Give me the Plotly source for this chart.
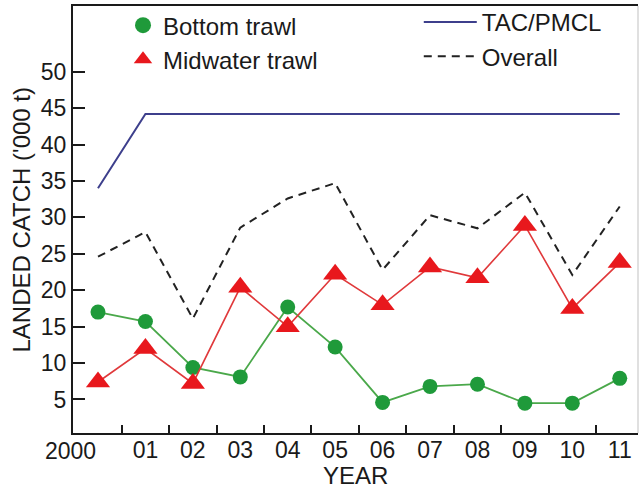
import plotly.graph_objects as go

years = [2000, 2001, 2002, 2003, 2004, 2005, 2006, 2007, 2008, 2009, 2010, 2011]
year_labels = ["2000", "01", "02", "03", "04", "05", "06", "07", "08", "09", "10", "11"]
bottom_trawl = [17.0, 15.7, 9.4, 8.1, 17.7, 12.2, 4.6, 6.8, 7.1, 4.5, 4.5, 7.9]
midwater_trawl = [7.4, 12.0, 7.2, 20.4, 15.0, 22.2, 18.0, 23.2, 21.7, 28.9, 17.5, 23.8]
overall = [24.6, 28.0, 16.1, 28.6, 32.6, 34.7, 22.8, 30.3, 28.5, 33.4, 22.1, 31.5]
tac_pmcl = [34.0, 44.2, 44.2, 44.2, 44.2, 44.2, 44.2, 44.2, 44.2, 44.2, 44.2, 44.2]
y_ticks = [5, 10, 15, 20, 25, 30, 35, 40, 45, 50]
year_bounds = [2000.5, 2001.5, 2002.5, 2003.5, 2004.5, 2005.5, 2006.5, 2007.5, 2008.5, 2009.5, 2010.5]

FONT = "Liberation Sans, Arial, Helvetica, sans-serif"
INK = "#1a1a1a"
GREEN_M = "#1f9a3a"
GREEN_L = "#4aa84a"
RED_M = "#e8181d"
RED_L = "#e0393b"

fig = go.Figure()

fig.add_trace(go.Scatter(
    x=years, y=tac_pmcl, mode="lines", name="TAC/PMCL",
    line=dict(color="#3d3f8c", width=2), legend="legend2"))
fig.add_trace(go.Scatter(
    x=years, y=overall, mode="lines", name="Overall",
    line=dict(color="#222222", width=2, dash="8px,6px"), legend="legend2"))
fig.add_trace(go.Scatter(
    x=years, y=bottom_trawl, mode="lines+markers", name="Bottom trawl",
    line=dict(color=GREEN_L, width=1.8),
    marker=dict(symbol="circle", size=15, color=GREEN_M), showlegend=False))
fig.add_trace(go.Scatter(
    x=years, y=midwater_trawl, mode="lines+markers", name="Midwater trawl",
    line=dict(color=RED_L, width=1.6),
    marker=dict(symbol="triangle-up", size=21, color=RED_M), showlegend=False))
# legend-only entries (marker only, as in the reference legend)
fig.add_trace(go.Scatter(
    x=[None], y=[None], mode="markers", name="Bottom trawl",
    marker=dict(symbol="circle", size=18, color=GREEN_M), legend="legend"))
fig.add_trace(go.Scatter(
    x=[None], y=[None], mode="markers", name="Midwater trawl",
    marker=dict(symbol="triangle-up", size=22, color=RED_M), legend="legend"))

fig.update_layout(
    width=643, height=488,
    margin=dict(l=73, r=5, t=0, b=55),
    paper_bgcolor="white", plot_bgcolor="white",
    font=dict(family=FONT, size=23, color=INK),
    xaxis=dict(
        range=[1999.473, 2011.385], showgrid=False, zeroline=False,
        showline=True, linecolor=INK, linewidth=2, mirror=True,
        tickmode="array", tickvals=years[1:], ticktext=year_labels[1:],
        ticks="", ticklabelstandoff=-5,
        tickfont=dict(size=23, family=FONT, color=INK),
        minor=dict(tickmode="array", tickvals=year_bounds, ticks="inside",
                   ticklen=8, tickwidth=2, tickcolor=INK),
    ),
    yaxis=dict(
        domain=[0, 0.9861],
        range=[0.4, 59.02], showgrid=False, zeroline=False,
        showline=True, linecolor=INK, linewidth=2,
        tickmode="array", tickvals=y_ticks, ticks="inside", ticklen=12,
        tickwidth=2, tickcolor=INK,
        tickfont=dict(size=23, family=FONT, color=INK),
    ),
    legend=dict(x=0.0885, y=0.993, xanchor="left", yanchor="top",
                bgcolor="rgba(0,0,0,0)", font=dict(size=24, family=FONT, color=INK),
                tracegroupgap=0),
    legend2=dict(x=0.612, y=1.0, xanchor="left", yanchor="top",
                 bgcolor="rgba(0,0,0,0)", font=dict(size=24, family=FONT, color=INK),
                 itemwidth=53, tracegroupgap=0),
    showlegend=True,
)

fig.add_shape(type="line", xref="paper", yref="paper", x0=1, x1=1, y0=0, y1=0.9861,
              line=dict(color="#d6d6d6", width=1.5))

fig.add_annotation(x=-0.0053, y=0, xref="paper", yref="paper", text=year_labels[0],
                   showarrow=False, xanchor="center", yanchor="top", yshift=-3,
                   font=dict(size=23, family=FONT, color=INK))
fig.add_annotation(x=0.5, y=-0.097, xref="paper", yref="paper", text="YEAR",
                   showarrow=False, xanchor="center", yanchor="middle",
                   font=dict(size=24, family=FONT, color=INK))
fig.add_annotation(x=-0.0903, y=0.493, xref="paper", yref="paper",
                   text="LANDED CATCH ('000 t)", textangle=-90,
                   showarrow=False, xanchor="center", yanchor="middle",
                   font=dict(size=24, family=FONT, color=INK))

fig.write_html("out.html")
